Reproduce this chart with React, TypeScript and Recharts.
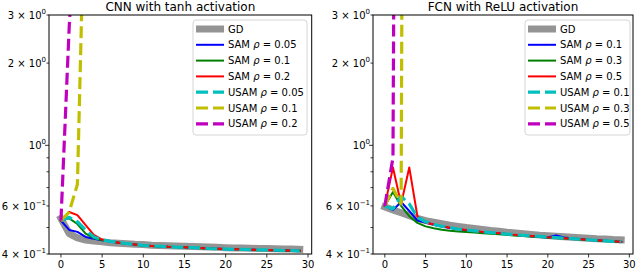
import { LineChart, Line, XAxis, YAxis } from 'recharts';

// epochs on the x axis
const epochs = [0, 1, 2, 3, 4, 5, 6, 7, 8, 9, 10, 11, 12, 13, 14, 15, 16, 17, 18, 19, 20, 21, 22, 23, 24, 25, 26, 27, 28, 29];

// CNN with tanh activation
const cnnGD = [0.540, 0.475, 0.458, 0.450, 0.446, 0.443, 0.440, 0.438, 0.436, 0.434, 0.433, 0.431, 0.430, 0.429, 0.428, 0.427, 0.426, 0.425, 0.424, 0.423, 0.422, 0.421, 0.421, 0.420, 0.419, 0.419, 0.418, 0.417, 0.417, 0.416];
const cnnSamA = [0.530, 0.490, 0.482, 0.462, 0.455, 0.449, 0.444, 0.440, 0.436, 0.433, 0.430, 0.428, 0.427, 0.425, 0.424, 0.423, 0.422, 0.421, 0.419, 0.418, 0.417, 0.416, 0.416, 0.415, 0.414, 0.414, 0.413, 0.412, 0.412, 0.411];
const cnnSamB = [0.530, 0.540, 0.515, 0.475, 0.457, 0.450, 0.444, 0.440, 0.436, 0.433, 0.430, 0.428, 0.426, 0.425, 0.424, 0.423, 0.422, 0.420, 0.419, 0.418, 0.417, 0.416, 0.416, 0.415, 0.414, 0.413, 0.413, 0.412, 0.411, 0.411];
const cnnSamC = [0.530, 0.570, 0.555, 0.510, 0.470, 0.452, 0.445, 0.440, 0.437, 0.433, 0.430, 0.428, 0.427, 0.425, 0.424, 0.423, 0.422, 0.421, 0.419, 0.418, 0.417, 0.416, 0.416, 0.415, 0.414, 0.414, 0.413, 0.412, 0.412, 0.411];
const cnnUsamA = [0.530, 0.545, 0.525, 0.490, 0.462, 0.451, 0.445, 0.440, 0.437, 0.433, 0.430, 0.428, 0.427, 0.425, 0.424, 0.423, 0.422, 0.421, 0.419, 0.418, 0.417, 0.416, 0.416, 0.415, 0.414, 0.414, 0.413, 0.412, 0.412, 0.411];
const cnnUsamB = [0.530, 0.570, 0.720, 12, null, null, null, null, null, null, null, null, null, null, null, null, null, null, null, null, null, null, null, null, null, null, null, null, null, null];
const cnnUsamC = [0.530, 2.7, 10, null, null, null, null, null, null, null, null, null, null, null, null, null, null, null, null, null, null, null, null, null, null, null, null, null, null, null];
const cnnRhos = ['0.05', '0.1', '0.2'];

// FCN with ReLU activation
const fcnGD = [0.595, 0.580, 0.566, 0.553, 0.540, 0.530, 0.523, 0.516, 0.510, 0.505, 0.500, 0.496, 0.492, 0.488, 0.485, 0.481, 0.478, 0.475, 0.472, 0.469, 0.467, 0.465, 0.463, 0.461, 0.459, 0.457, 0.455, 0.454, 0.452, 0.451];
const fcnSamA = [0.600, 0.580, 0.620, 0.575, 0.530, 0.522, 0.512, 0.504, 0.498, 0.493, 0.489, 0.485, 0.481, 0.478, 0.475, 0.472, 0.469, 0.467, 0.465, 0.463, 0.460, 0.468, 0.460, 0.456, 0.454, 0.451, 0.449, 0.447, 0.445, 0.443];
const fcnSamB = [0.600, 0.675, 0.600, 0.550, 0.520, 0.505, 0.497, 0.491, 0.487, 0.484, 0.482, 0.479, 0.476, 0.474, 0.472, 0.470, 0.468, 0.466, 0.464, 0.462, 0.460, 0.458, 0.456, 0.454, 0.452, 0.450, 0.448, 0.446, 0.445, 0.443];
const fcnSamC = [0.600, 0.830, 0.610, 0.830, 0.550, 0.522, 0.513, 0.505, 0.499, 0.494, 0.490, 0.486, 0.482, 0.479, 0.476, 0.473, 0.470, 0.468, 0.466, 0.464, 0.461, 0.459, 0.457, 0.455, 0.453, 0.451, 0.449, 0.447, 0.445, 0.443];
const fcnUsamA = [0.600, 0.585, 0.650, 0.610, 0.545, 0.525, 0.513, 0.505, 0.499, 0.494, 0.490, 0.486, 0.482, 0.479, 0.476, 0.473, 0.470, 0.468, 0.466, 0.464, 0.461, 0.459, 0.457, 0.455, 0.453, 0.451, 0.449, 0.447, 0.445, 0.443];
const fcnUsamB = [0.600, 0.695, 0.610, 1e8, null, null, null, null, null, null, null, null, null, null, null, null, null, null, null, null, null, null, null, null, null, null, null, null, null, null];
const fcnUsamC = [0.600, 0.900, 1e6, null, null, null, null, null, null, null, null, null, null, null, null, null, null, null, null, null, null, null, null, null, null, null, null, null, null, null];
const fcnRhos = ['0.1', '0.3', '0.5'];

const xTicks = [0, 5, 10, 15, 20, 25, 30];
const yTicks = [0.4, 0.5, 0.6, 0.7, 0.8, 0.9, 1, 2, 3];
const yLabels: Record<string, [string, string]> = {
  '3': ['3 × 10', '0'],
  '2': ['2 × 10', '0'],
  '1': ['10', '0'],
  '0.6': ['6 × 10', '−1'],
  '0.4': ['4 × 10', '−1'],
};

const FONT = 'DejaVu Sans';
const PLOT_TOP = 15;
const PLOT_BOTTOM = 254;

const series = [
  { key: 'gd', color: '#949494', width: 7, dash: undefined as string | undefined, kind: 'gd' },
  { key: 'samA', color: '#0000ff', width: 2, dash: undefined, kind: 'SAM', idx: 0 },
  { key: 'samB', color: '#008000', width: 2, dash: undefined, kind: 'SAM', idx: 1 },
  { key: 'samC', color: '#ff0000', width: 2, dash: undefined, kind: 'SAM', idx: 2 },
  { key: 'usamA', color: '#00bfbf', width: 3.2, dash: '12 5', kind: 'USAM', idx: 0 },
  { key: 'usamB', color: '#bfbf00', width: 3.2, dash: '12 5', kind: 'USAM', idx: 1 },
  { key: 'usamC', color: '#bf00bf', width: 3.2, dash: '12 5', kind: 'USAM', idx: 2 },
];

function buildRows(cols: (number | null)[][]) {
  return epochs.map((epoch, i) => ({
    epoch,
    gd: cols[0][i],
    samA: cols[1][i],
    samB: cols[2][i],
    samC: cols[3][i],
    usamA: cols[4][i],
    usamB: cols[5][i],
    usamC: cols[6][i],
  }));
}

const cnnRows = buildRows([cnnGD, cnnSamA, cnnSamB, cnnSamC, cnnUsamA, cnnUsamB, cnnUsamC]);
const fcnRows = buildRows([fcnGD, fcnSamA, fcnSamB, fcnSamC, fcnUsamA, fcnUsamB, fcnUsamC]);

const YTick = (props: any) => {
  const { x, y, payload } = props;
  const v = payload.value;
  const lab = yLabels[String(v)];
  const len = v === 1 ? 4 : 2.5;
  return (
    <g>
      <line x1={x - len} x2={x} y1={y} y2={y} stroke="#000" strokeWidth={0.8} />
      {lab && (
        <text x={x - 3} y={y + 3.6} textAnchor="end" fontSize={10} fill="#000" fontFamily={FONT}>
          {lab[0]}
          <tspan dy={-4.5} fontSize={7}>{lab[1]}</tspan>
        </text>
      )}
    </g>
  );
};

const XTick = (props: any) => {
  const { x, y, payload } = props;
  return (
    <g>
      <line x1={x} x2={x} y1={y} y2={y + 3.5} stroke="#000" strokeWidth={0.8} />
      <text x={x} y={y + 14} textAnchor="middle" fontSize={10} fill="#000" fontFamily={FONT}>
        {payload.value}
      </text>
    </g>
  );
};

interface PanelProps {
  left: number;
  title: string;
  rows: any[];
  rhos: string[];
  plotLeft: number;
  plotRight: number;
  legendX: number;
  legendW: number;
}

function Panel({ left, title, rows, rhos, plotLeft, plotRight, legendX, legendW }: PanelProps) {
  const legendY = 20;
  const step = 15.8;
  return (
    <div style={{ position: 'absolute', left, top: 0, width: 320, height: 271 }}>
      <LineChart
        width={320}
        height={271}
        data={rows}
        margin={{ top: PLOT_TOP, right: 320 - plotRight, bottom: 0, left: 0 }}
      >
        <XAxis
          dataKey="epoch"
          type="number"
          domain={[-1.45, 30.45]}
          allowDataOverflow
          ticks={xTicks}
          interval={0}
          height={271 - PLOT_BOTTOM}
          tickSize={0}
          tickMargin={0}
          axisLine={false}
          tickLine={false}
          tick={<XTick />}
        />
        <YAxis
          type="number"
          scale="log"
          domain={[0.4, 3]}
          allowDataOverflow
          ticks={yTicks}
          interval={0}
          width={plotLeft}
          tickSize={0}
          tickMargin={0}
          axisLine={false}
          tickLine={false}
          tick={<YTick />}
        />
        {series.map(s => (
          <Line
            key={s.key}
            dataKey={s.key}
            type="linear"
            stroke={s.color}
            strokeWidth={s.width}
            strokeDasharray={s.dash}
            strokeLinecap={s.dash ? 'butt' : 'square'}
            strokeLinejoin="round"
            dot={false}
            activeDot={false}
            connectNulls={false}
            isAnimationActive={false}
          />
        ))}
      </LineChart>
      <svg
        width={320}
        height={271}
        style={{ position: 'absolute', left: 0, top: 0, pointerEvents: 'none' }}
        fontFamily={FONT}
      >
        <text x={(plotLeft + plotRight) / 2} y={10.5} textAnchor="middle" fontSize={12} fill="#000">
          {title}
        </text>
        <rect
          x={plotLeft}
          y={PLOT_TOP}
          width={plotRight - plotLeft}
          height={PLOT_BOTTOM - PLOT_TOP}
          fill="none"
          stroke="#000"
          strokeWidth={1}
        />
        {/* legend */}
        <rect x={legendX} y={legendY} width={legendW} height={115} rx={3} fill="#fff" fillOpacity={0.8} stroke="#d5d5d5" strokeWidth={1} />
        {series.map((s, i) => {
          const cy = legendY + 9 + i * step;
          const hx = legendX + 3;
          return (
            <g key={s.key}>
              {s.kind === 'gd' ? (
                <rect x={hx} y={cy - 3.5} width={28} height={7} fill={s.color} />
              ) : (
                <line x1={hx} x2={hx + 28} y1={cy} y2={cy} stroke={s.color} strokeWidth={s.width} strokeDasharray={s.dash} />
              )}
              <text x={hx + 32} y={cy + 3.6} fontSize={10} fill="#000">
                {s.kind === 'gd' ? 'GD' : (
                  <>
                    {s.kind + ' '}
                    <tspan fontStyle="italic">ρ</tspan>
                    {' = ' + rhos[s.idx as number]}
                  </>
                )}
              </text>
            </g>
          );
        })}
      </svg>
    </div>
  );
}

export default function App() {
  return (
    <div style={{ position: 'absolute', left: 0, top: 0, width: 640, height: 271, background: '#fff', fontFamily: FONT }}>
      <Panel left={0} title="CNN with tanh activation" rows={cnnRows} rhos={cnnRhos} plotLeft={49} plotRight={311.7} legendX={193} legendW={114} />
      <Panel left={320} title="FCN with ReLU activation" rows={fcnRows} rhos={fcnRhos} plotLeft={53} plotRight={313} legendX={205} legendW={105} />
    </div>
  );
}
